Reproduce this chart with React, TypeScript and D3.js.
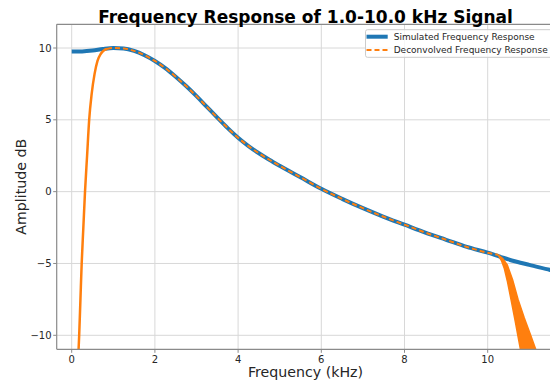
import React from "react";
import * as d3 from "d3";

const simFreq = [0, 0.25, 0.5, 0.75, 1.0, 1.25, 1.5, 1.75, 2.0, 2.25, 2.5, 2.75, 3.0, 3.25, 3.5, 3.75, 4.0, 4.25, 4.5, 4.75, 5.0, 5.5, 6.0, 6.5, 7.0, 7.5, 8.0, 8.5, 9.0, 9.5, 10.0, 10.5, 11.0, 11.5, 11.7];
const simAmp = [9.75, 9.76, 9.82, 9.93, 10.0, 9.97, 9.8, 9.5, 9.1, 8.6, 8.0, 7.35, 6.65, 5.9, 5.15, 4.42, 3.75, 3.17, 2.67, 2.22, 1.8, 1.0, 0.2, -0.5, -1.15, -1.75, -2.3, -2.85, -3.35, -3.85, -4.25, -4.72, -5.1, -5.45, -5.6];

const riseFreq = [0.15, 0.18, 0.21, 0.24, 0.28, 0.32, 0.37, 0.42, 0.48, 0.55, 0.62, 0.7, 0.78, 0.85];
const riseAmp = [-12, -10, -7.5, -5, -2.5, 0, 2.5, 5, 6.8, 8.2, 9.1, 9.6, 9.85, 9.93];

const tailLowFreq = [10.25, 10.33, 10.4, 10.47, 10.56, 10.66, 10.75, 10.82];
const tailLowAmp = [-4.4, -4.8, -5.35, -6.2, -7.5, -9.0, -10.4, -11.5];
const tailHighFreq = [10.25, 10.36, 10.47, 10.6, 10.73, 10.88, 11.02, 11.22];
const tailHighAmp = [-4.4, -4.65, -5.1, -6.15, -7.5, -8.8, -9.9, -11.5];

const xTicks = [0, 2, 4, 6, 8, 10];
const yTicks = [-10, -5, 0, 5, 10];

const W = 550, H = 386;
const L = 56.7, T = 24.3, B = 349.3, R = 556;

export default function App() {
  const x = d3.scaleLinear().domain([0, 10]).range([71.7, 487.7]);
  const y = d3.scaleLinear().domain([-10, 10]).range([335.3, 48]);

  const line = d3.line<[number, number]>().x(d => x(d[0])).y(d => y(d[1])).curve(d3.curveMonotoneX);
  const simPts: [number, number][] = simFreq.map((f, i) => [f, simAmp[i]]);
  const decPts: [number, number][] = [[0.85, 9.93], ...simPts.filter(p => p[0] > 0.85 && p[0] < 10.25), [10.25, -4.4]];
  const risePts: [number, number][] = riseFreq.map((f, i) => [f, riseAmp[i]]);
  const lowPts: [number, number][] = tailLowFreq.map((f, i) => [f, tailLowAmp[i]]);
  const highPts: [number, number][] = tailHighFreq.map((f, i) => [f, tailHighAmp[i]]);
  const tailPoly = [...lowPts, ...highPts.slice().reverse()];
  const polyLine = d3.line<[number, number]>().x(d => x(d[0])).y(d => y(d[1]));

  const spine = "#8a8a8a";
  const grid = "#d8d8d8";
  const font = "DejaVu Sans";

  return (
    <svg width={W} height={H} style={{ position: "absolute", left: 0, top: 0 }} fontFamily={font}>
      <rect x={0} y={0} width={W} height={H} fill="#fff" />
      <defs>
        <clipPath id="plot"><rect x={L} y={T} width={R - L} height={B - T} /></clipPath>
      </defs>
      {xTicks.map(t => (
        <line key={"gx" + t} x1={x(t)} x2={x(t)} y1={T} y2={B} stroke={grid} strokeWidth={1} />
      ))}
      {yTicks.map(t => (
        <line key={"gy" + t} x1={L} x2={R} y1={y(t)} y2={y(t)} stroke={grid} strokeWidth={1} />
      ))}
      <g clipPath="url(#plot)">
        <path d={line(simPts) || ""} fill="none" stroke="#1f77b4" strokeWidth={4} />
        <path d={line(risePts) || ""} fill="none" stroke="#ff7f0e" strokeWidth={2.5} />
        <path d={line(decPts) || ""} fill="none" stroke="#ff7f0e" strokeWidth={2} strokeDasharray="5,3" />
        <path d={(polyLine(tailPoly) || "") + "Z"} fill="#ff7f0e" stroke="#ff7f0e" strokeWidth={1.5} />
      </g>
      <line x1={L} x2={L} y1={T} y2={B} stroke={spine} strokeWidth={1.2} />
      <line x1={L} x2={R} y1={B} y2={B} stroke={spine} strokeWidth={1.2} />
      <line x1={L} x2={R} y1={T} y2={T} stroke={spine} strokeWidth={1.2} />
      {xTicks.map(t => (
        <g key={"tx" + t}>
          <line x1={x(t)} x2={x(t)} y1={B} y2={B + 3.5} stroke={spine} strokeWidth={1} />
          <text x={x(t)} y={362.5} textAnchor="middle" fontSize={10} fill="#262626">{t}</text>
        </g>
      ))}
      {yTicks.map(t => (
        <g key={"ty" + t}>
          <line x1={L - 3.5} x2={L} y1={y(t)} y2={y(t)} stroke={spine} strokeWidth={1} />
          <text x={51.5} y={y(t) + 3.6} textAnchor="end" fontSize={10} fill="#262626">{t < 0 ? "\u2212" + Math.abs(t) : t}</text>
        </g>
      ))}
      <text x={305.5} y={23} textAnchor="middle" fontSize={17} fontWeight="bold" fill="#000">Frequency Response of 1.0-10.0 kHz Signal</text>
      <text x={305.5} y={377} textAnchor="middle" fontSize={14.2} fill="#262626">Frequency (kHz)</text>
      <text transform={`translate(26,${(T + B) / 2}) rotate(-90)`} textAnchor="middle" fontSize={14.2} fill="#262626">Amplitude dB</text>
      <g>
        <rect x={365.5} y={29.7} width={200} height={27.6} rx={2} fill="#fff" fillOpacity={0.8} stroke="#cccccc" strokeWidth={1} />
        <line x1={366.5} x2={387.7} y1={36.7} y2={36.7} stroke="#1f77b4" strokeWidth={4} />
        <line x1={366.5} x2={387.7} y1={50} y2={50} stroke="#ff7f0e" strokeWidth={2} strokeDasharray="5,3" />
        <text x={393.7} y={40} fontSize={9} fill="#262626">Simulated Frequency Response</text>
        <text x={393.7} y={53.3} fontSize={9} fill="#262626">Deconvolved Frequency Response</text>
      </g>
    </svg>
  );
}
